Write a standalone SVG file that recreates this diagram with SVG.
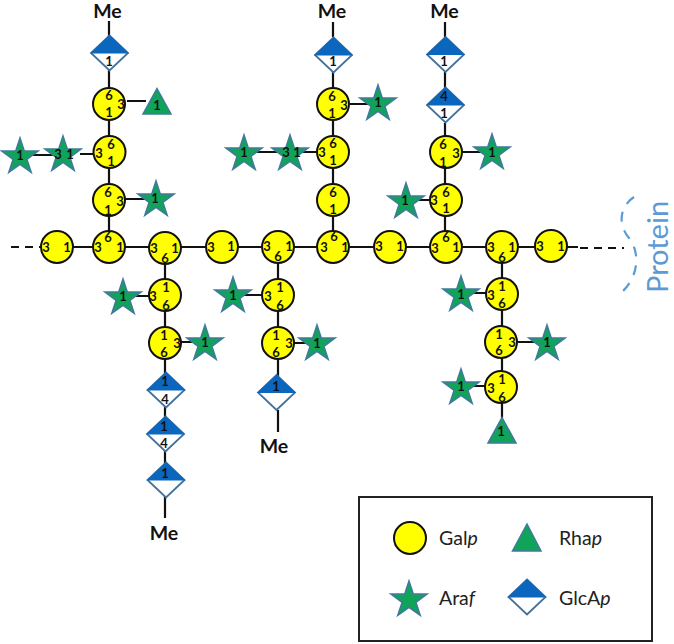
<svg xmlns="http://www.w3.org/2000/svg" xmlns:xlink="http://www.w3.org/1999/xlink" width="674" height="644" viewBox="0 0 674 644">
<style>
text{font-family:"Lato","Liberation Sans",sans-serif}
.n{font-size:13px;font-weight:700;fill:#111;text-anchor:middle;dominant-baseline:central}
.me{font-size:19.500px;font-weight:700;fill:#111;text-anchor:middle}
.lg{font-size:19.500px;fill:#222}
.c{fill:#ffff00;stroke:#111;stroke-width:2}
.s{fill:#10a35a;stroke:#41799c;stroke-width:1.5}
.w{fill:#fff;stroke:#41719c;stroke-width:1.800}
.b{fill:#0b66bd}
.l{stroke:#111;stroke-width:2.2;fill:none}
.d{stroke:#111;stroke-width:2.2;fill:none;stroke-dasharray:8 6}
</style>
<defs>
<circle id="gal" class="c" r="16"/>
<polygon id="ara" class="s" points="0,-19 4.3,-5.9 18.1,-5.9 6.9,2.3 11.2,15.4 0,7.3 -11.2,15.4 -6.9,2.3 -18.1,-5.9 -4.3,-5.9"/>
<polygon id="rha" class="s" points="0,-13.5 14,12 -14,12"/>
<g id="glc"><polygon class="w" points="0,-17.5 18.5,0 0,17.5 -18.5,0"/><polygon class="b" points="0,-18 19.5,0.5 -19.5,0.5"/></g>
</defs>
<g id="connectors">
<path class="l" d="M109,21V230M127,101H146M80,154H94M20,155H60M125,199H150M109,230V247M41,247H330"/>
<path class="d" d="M11,247H41"/>
<path class="l" d="M165,248V480M165,480V518M123,296H150M181,342H205M278,248V392M278,410V432M233,295H262M294,343H317"/>
<path class="l" d="M333,22V37M333,72V247M350,104H372M244,152H318M333,247H578"/>
<path class="l" d="M445,22V37M445,72V88M445,123V247M462,152H490M406,200H431"/>
<path class="l" d="M502,248V418M461,293H486M517,342H547M461,386H486"/>
<path class="d" d="M580,248H624"/>
</g>
<g id="protein">
<path d="M634,197C619,207 618,225 629,238C640,252 639,275 623,291" fill="none" stroke="#5b9bd5" stroke-width="2.2" stroke-dasharray="10 9"/>
<text transform="translate(668,293) rotate(-90)" font-size="29" fill="#5b9bd5">Protein</text>
</g>
<g id="me1"><text class="me" x="107.500" y="18">Me</text></g>
<g id="me2"><text class="me" x="332" y="18">Me</text></g>
<g id="me3"><text class="me" x="444.500" y="18">Me</text></g>
<g id="me4"><text class="me" x="164" y="540">Me</text></g>
<g id="me5"><text class="me" x="274" y="453">Me</text></g>
<g id="a1"><use href="#glc" x="109.500" y="53"/><text class="n" x="109" y="61">1</text></g>
<g id="a2"><use href="#gal" x="109" y="104"/><text class="n" x="109" y="95">6</text><text class="n" x="121" y="104">3</text><text class="n" x="109" y="112">1</text></g>
<g id="a3"><use href="#rha" x="157" y="102"/><text class="n" x="157" y="105">1</text></g>
<g id="a4"><use href="#gal" x="109.500" y="152"/><text class="n" x="111" y="144">6</text><text class="n" x="99" y="153">3</text><text class="n" x="111" y="161">1</text></g>
<g id="a5"><use href="#ara" x="63" y="155"/><text class="n" x="58" y="154">3</text><text class="n" x="70" y="154">1</text></g>
<g id="a6"><use href="#ara" x="20" y="157"/><text class="n" x="20" y="155">1</text></g>
<g id="a7"><use href="#gal" x="109" y="200"/><text class="n" x="108" y="192">6</text><text class="n" x="120" y="201">3</text><text class="n" x="108" y="210">1</text></g>
<g id="a8"><use href="#ara" x="156" y="200"/><text class="n" x="155" y="198">1</text></g>
<g id="m1"><use href="#gal" x="57" y="247"/><text class="n" x="46" y="247">3</text><text class="n" x="67" y="247">1</text></g>
<g id="m2"><use href="#gal" x="109" y="247"/><text class="n" x="108" y="237">6</text><text class="n" x="98" y="247">3</text><text class="n" x="120" y="247">1</text></g>
<g id="m3"><use href="#gal" x="165" y="248"/><text class="n" x="154" y="248">3</text><text class="n" x="175" y="248">1</text><text class="n" x="165" y="258">6</text></g>
<g id="m4"><use href="#gal" x="222" y="247"/><text class="n" x="211" y="247">3</text><text class="n" x="231" y="246">1</text></g>
<g id="m5"><use href="#gal" x="278" y="247"/><text class="n" x="267" y="246">3</text><text class="n" x="289" y="246">1</text><text class="n" x="278" y="256">6</text></g>
<g id="m6"><use href="#gal" x="333" y="247"/><text class="n" x="334" y="236">6</text><text class="n" x="324" y="247">3</text><text class="n" x="345" y="247">1</text></g>
<g id="m7"><use href="#gal" x="390" y="247"/><text class="n" x="379" y="246">3</text><text class="n" x="400" y="246">1</text></g>
<g id="m8"><use href="#gal" x="446" y="247"/><text class="n" x="446" y="237">6</text><text class="n" x="435" y="248">3</text><text class="n" x="456" y="247">1</text></g>
<g id="m9"><use href="#gal" x="502" y="247"/><text class="n" x="491" y="247">3</text><text class="n" x="512" y="247">1</text><text class="n" x="502" y="257">6</text></g>
<g id="m10"><use href="#gal" x="551" y="246"/><text class="n" x="540" y="246">3</text><text class="n" x="561" y="246">1</text></g>
<g id="b1"><use href="#gal" x="165" y="295"/><text class="n" x="166" y="287">1</text><text class="n" x="153" y="296">3</text><text class="n" x="166" y="305">6</text></g>
<g id="b2"><use href="#ara" x="123" y="298"/><text class="n" x="123" y="296">1</text></g>
<g id="b3"><use href="#gal" x="165" y="343"/><text class="n" x="164" y="335">1</text><text class="n" x="177" y="343">3</text><text class="n" x="164" y="352">6</text></g>
<g id="b4"><use href="#ara" x="205" y="344"/><text class="n" x="205" y="342">1</text></g>
<g id="b5"><use href="#glc" x="166" y="390"/><text class="n" x="165" y="381">1</text><text class="n" x="165" y="399">4</text></g>
<g id="b6"><use href="#glc" x="165.500" y="434"/><text class="n" x="164" y="426">1</text><text class="n" x="164" y="443">4</text></g>
<g id="b7"><use href="#glc" x="166" y="480"/><text class="n" x="165" y="473">1</text></g>
<g id="c1"><use href="#gal" x="278" y="295"/><text class="n" x="280" y="287">1</text><text class="n" x="268" y="296">3</text><text class="n" x="280" y="305">6</text></g>
<g id="c2"><use href="#ara" x="233" y="296"/><text class="n" x="233" y="295">1</text></g>
<g id="c3"><use href="#gal" x="278" y="343"/><text class="n" x="276" y="335">1</text><text class="n" x="289" y="343">3</text><text class="n" x="276" y="352">6</text></g>
<g id="c4"><use href="#ara" x="317" y="344"/><text class="n" x="317" y="343">1</text></g>
<g id="c5"><use href="#glc" x="276.500" y="392.500"/><text class="n" x="276" y="386">1</text></g>
<g id="d1"><use href="#glc" x="333.500" y="55"/><text class="n" x="333" y="61">1</text></g>
<g id="d2"><use href="#gal" x="333" y="104"/><text class="n" x="332" y="96">6</text><text class="n" x="344" y="105">3</text><text class="n" x="332" y="113">1</text></g>
<g id="d3"><use href="#ara" x="378" y="104"/><text class="n" x="378" y="102">1</text></g>
<g id="d4"><use href="#gal" x="333" y="152"/><text class="n" x="333" y="143">6</text><text class="n" x="322" y="152">3</text><text class="n" x="333" y="160">1</text></g>
<g id="d5"><use href="#ara" x="290" y="154"/><text class="n" x="286" y="152">3</text><text class="n" x="297" y="152">1</text></g>
<g id="d6"><use href="#ara" x="244" y="154"/><text class="n" x="244" y="152">1</text></g>
<g id="d7"><use href="#gal" x="333" y="200"/><text class="n" x="333" y="192">6</text><text class="n" x="333" y="209">1</text></g>
<g id="e1"><use href="#glc" x="445.500" y="54.500"/><text class="n" x="444" y="61">1</text></g>
<g id="e2"><use href="#glc" x="445.500" y="105"/><text class="n" x="444" y="96">4</text><text class="n" x="444" y="113">1</text></g>
<g id="e3"><use href="#gal" x="446" y="152"/><text class="n" x="443" y="144">6</text><text class="n" x="456" y="153">3</text><text class="n" x="443" y="162">1</text></g>
<g id="e4"><use href="#ara" x="492" y="153"/><text class="n" x="492" y="152">1</text></g>
<g id="e5"><use href="#gal" x="446" y="200"/><text class="n" x="446" y="192">6</text><text class="n" x="434" y="200">3</text><text class="n" x="446" y="208">1</text></g>
<g id="e6"><use href="#ara" x="406" y="202"/><text class="n" x="405" y="200">1</text></g>
<g id="f1"><use href="#gal" x="502" y="294"/><text class="n" x="502" y="286">1</text><text class="n" x="491" y="295">3</text><text class="n" x="502" y="303">6</text></g>
<g id="f2"><use href="#ara" x="461" y="295"/><text class="n" x="461" y="294">1</text></g>
<g id="f3"><use href="#gal" x="501" y="342"/><text class="n" x="499" y="334">1</text><text class="n" x="512" y="342">3</text><text class="n" x="499" y="350">6</text></g>
<g id="f4"><use href="#ara" x="547" y="344"/><text class="n" x="547" y="342">1</text></g>
<g id="f5"><use href="#gal" x="501" y="387"/><text class="n" x="502" y="379">1</text><text class="n" x="491" y="388">3</text><text class="n" x="502" y="397">6</text></g>
<g id="f6"><use href="#ara" x="461" y="388"/><text class="n" x="461" y="386">1</text></g>
<g id="f7"><use href="#rha" x="502" y="431"/><text class="n" x="501" y="431">1</text></g>
<g id="legend">
<rect x="359" y="497" width="293" height="144" fill="#fff" stroke="#222" stroke-width="2"/>
<use href="#gal" x="410" y="538"/><text class="lg" x="439" y="545">Gal<tspan font-style="italic">p</tspan></text>
<polygon class="s" points="527,524 541,551 512.500,551"/><text class="lg" x="559" y="545">Rha<tspan font-style="italic">p</tspan></text>
<use href="#ara" x="409" y="600"/><text class="lg" x="439" y="605">Ara<tspan font-style="italic">f</tspan></text>
<use href="#glc" x="527" y="597"/><text class="lg" x="559" y="605">GlcA<tspan font-style="italic">p</tspan></text>
</g>
</svg>
